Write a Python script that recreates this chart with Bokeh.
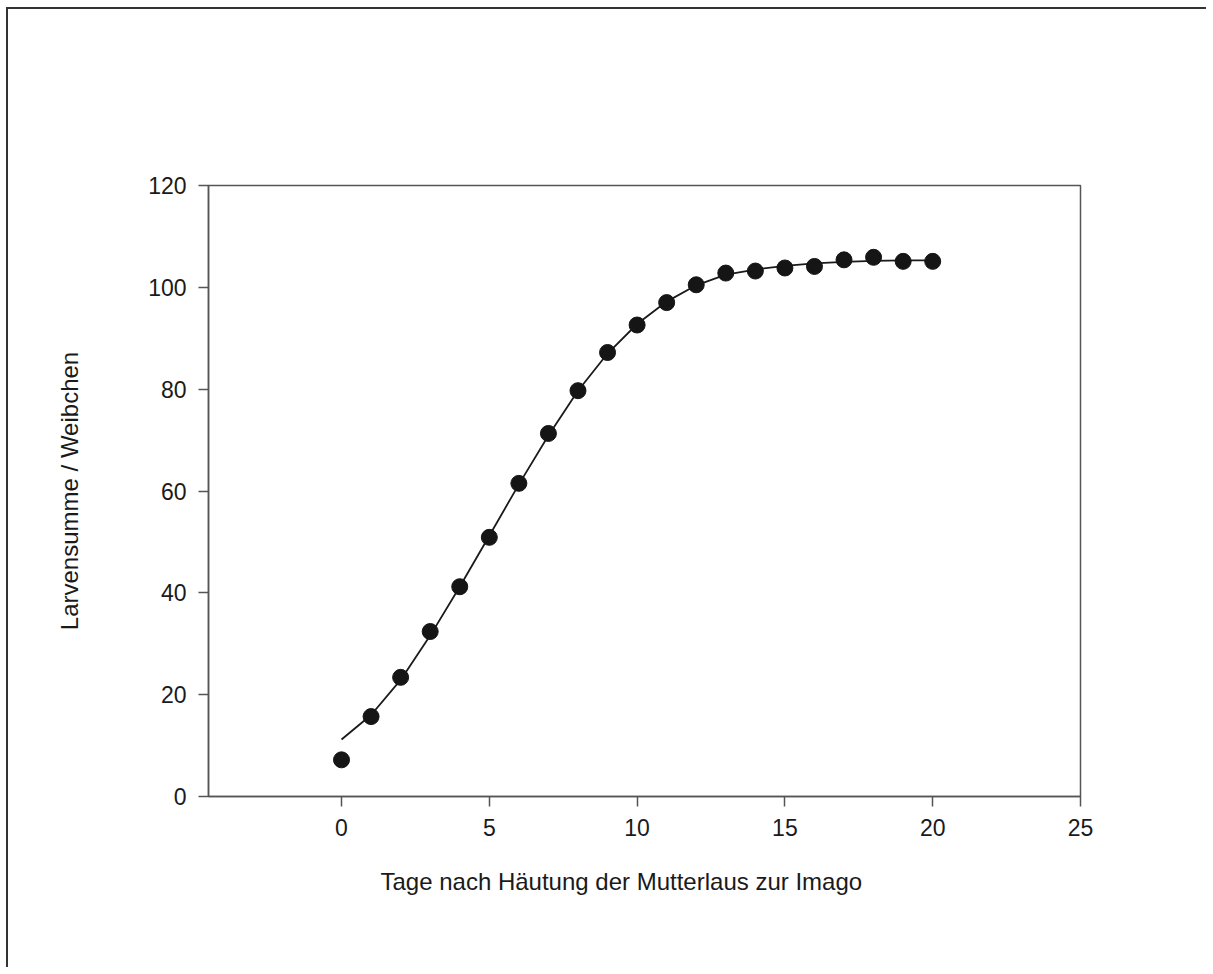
from bokeh.plotting import figure
from bokeh.models import FixedTicker, Title
from bokeh.embed import file_html
from bokeh.resources import INLINE

# Observed cumulative larvae per female
days = list(range(21))
larvae = [7.2, 15.7, 23.4, 32.4, 41.2, 50.9, 61.5, 71.3, 79.7, 87.2, 92.6,
          97.0, 100.5, 102.8, 103.2, 103.8, 104.1, 105.4, 105.9, 105.1, 105.1]

# Fitted curve
fit_days = list(range(21))
fit_values = [11.2, 16.0, 22.9, 31.6, 41.2, 51.2, 61.3, 70.9, 79.7, 87.0, 92.8,
              97.2, 100.4, 102.5, 103.5, 104.2, 104.7, 105.0, 105.2, 105.3, 105.3]

x_ticks = [0, 5, 10, 15, 20, 25]
y_ticks = [0, 20, 40, 60, 80, 100, 120]

x_label = "Tage nach Häutung der Mutterlaus zur Imago"
y_label = "Larvensumme / Weibchen"

FONT = "Liberation Sans"
AX = "#555555"

p = figure(width=1200, height=960, x_range=(-4.5, 25), y_range=(0, 120),
           output_backend="svg", toolbar_location=None,
           min_border_left=200, min_border_right=128,
           min_border_top=176, min_border_bottom=173)
p.styles = {"border-top": "2px solid #333333", "border-left": "2px solid #333333",
            "margin-left": "6px", "margin-top": "7px"}

p.xgrid.visible = False
p.ygrid.visible = False
p.outline_line_color = AX
p.outline_line_width = 1.5
p.background_fill_color = "white"
p.border_fill_color = "white"

for ax in (p.xaxis[0], p.yaxis[0]):
    ax.axis_line_color = AX
    ax.axis_line_width = 1.5
    ax.major_tick_line_color = AX
    ax.major_tick_line_width = 1.5
    ax.major_tick_in = 0
    ax.major_tick_out = 10
    ax.minor_tick_line_color = None
    ax.major_label_text_font = FONT
    ax.major_label_text_font_size = "23px"
    ax.major_label_text_color = "#1a1a1a"
    ax.major_label_standoff = 12

p.xaxis.ticker = FixedTicker(ticks=x_ticks)
p.yaxis.ticker = FixedTicker(ticks=y_ticks)

p.yaxis.axis_label = y_label
p.yaxis.axis_label_text_font = FONT
p.yaxis.axis_label_text_font_size = "24px"
p.yaxis.axis_label_text_font_style = "normal"
p.yaxis.axis_label_text_color = "#1a1a1a"
p.yaxis.axis_label_standoff = 62

p.add_layout(Title(text=x_label, align="left", offset=172, standoff=54,
                   text_font=FONT, text_font_size="24px",
                   text_font_style="normal", text_color="#1a1a1a"), "below")

p.line(fit_days, fit_values, line_color="#1a1a1a", line_width=1.8)
p.scatter(days, larvae, size=16, fill_color="#151515", line_color="#151515")

open("out.html", "w").write(file_html(p, INLINE))
